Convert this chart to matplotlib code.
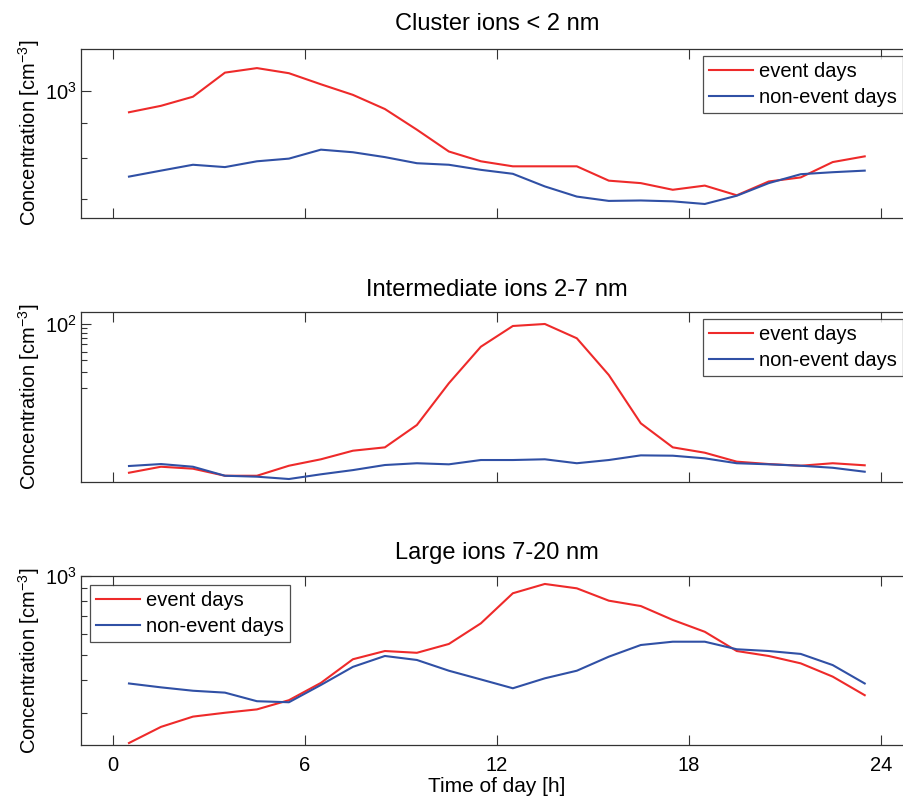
import numpy as np
import matplotlib
matplotlib.use("Agg")
import matplotlib.pyplot as plt
import matplotlib.ticker as mticker

plt.rcParams["font.family"] = ["Liberation Sans", "DejaVu Sans"]
plt.rcParams["mathtext.fontset"] = "custom"
plt.rcParams["mathtext.rm"] = "Liberation Sans"
plt.rcParams["mathtext.it"] = "Liberation Sans:italic"
plt.rcParams["mathtext.bf"] = "Liberation Sans:bold"

# hour of day (bin centres)
hours = np.arange(24) + 0.5

# cluster ions < 2 nm
cluster_event = [931, 951, 980, 1061, 1077, 1059, 1021, 986, 941, 879, 818, 792,
                 779, 779, 779, 743, 737, 721, 731, 708, 741, 751, 790, 805]
cluster_nonevent = [753, 768, 783, 777, 792, 799, 823, 816, 803, 787, 783, 770,
                    760, 729, 705, 695, 696, 694, 688, 707, 737, 759, 764, 768]

# intermediate ions 2-7 nm
inter_event = [2.31, 2.69, 2.56, 2.14, 2.14, 2.76, 3.25, 4.04, 4.40, 7.76, 22.4, 56.6,
               95.8, 100.8, 70.1, 27.6, 8.10, 4.40, 3.84, 3.06, 2.88, 2.76, 2.94, 2.79]
inter_nonevent = [2.74, 2.88, 2.69, 2.14, 2.09, 1.97, 2.22, 2.47, 2.81, 2.94, 2.86, 3.19,
                  3.19, 3.25, 2.94, 3.19, 3.59, 3.56, 3.33, 2.94, 2.86, 2.76, 2.62, 2.37]

# large ions 7-20 nm
large_event = [230, 265, 290, 300, 309, 335, 390, 480, 516, 508, 549, 658,
               857, 930, 895, 803, 766, 678, 611, 516, 494, 463, 412, 350]
large_nonevent = [388, 375, 364, 358, 332, 329, 383, 449, 494, 477, 434, 402,
                  372, 406, 434, 491, 544, 560, 560, 524, 516, 503, 456, 388]

titles = ["Cluster ions < 2 nm", "Intermediate ions 2-7 nm", "Large ions 7-20 nm"]
series = [(cluster_event, cluster_nonevent),
          (inter_event, inter_nonevent),
          (large_event, large_nonevent)]
ylims = [(658, 1147), (1.84, 135.6), (226, 1000)]
major_y = [[1000], [100], [1000]]
minor_y = [[700, 800, 900], [20, 30, 40, 50, 60, 70, 80, 90],
           [300, 400, 500, 600, 700, 800, 900]]

W, H = 904, 797
fig = plt.figure(figsize=(W / 100, H / 100), dpi=100)

# axes boxes in pixels: (top, bottom)
boxes = [(49, 217.5), (312.3, 481.7), (575.7, 745)]
x_left, x_right = 81, 912.7
legend_pos = [("upper right", 903, 55.7), ("upper right", 903, 319.3),
              ("upper left", 90, 585)]
title_pads = [13.5, 12, 12]

red = "#EE2A2A"
blue = "#3050A5"

for i, (top, bot) in enumerate(boxes):
    ax = fig.add_axes([x_left / W, 1 - bot / H, (x_right - x_left) / W, (bot - top) / H])
    ev, ne = series[i]
    ax.plot(hours, ev, color=red, lw=1.5, label="event days")
    ax.plot(hours, ne, color=blue, lw=1.5, label="non-event days")
    ax.set_yscale("log")
    ax.set_xlim(-1, 25)
    ax.set_ylim(*ylims[i])
    ax.yaxis.set_major_locator(mticker.FixedLocator(major_y[i]))
    ax.yaxis.set_minor_locator(mticker.FixedLocator(minor_y[i]))
    ax.yaxis.set_major_formatter(mticker.LogFormatterMathtext())
    ax.yaxis.set_minor_formatter(mticker.NullFormatter())
    ax.set_xticks([0, 6, 12, 18, 24])
    ax.tick_params(which="both", direction="in", top=True, right=True,
                   labelsize=14.5, width=0.8, color="#333333")
    ax.tick_params(which="major", length=7, pad=3)
    ax.tick_params(which="minor", length=4)
    ax.tick_params(axis="x", pad=8)
    for sp in ax.spines.values():
        sp.set_linewidth(0.9)
        sp.set_color("#333333")
    if i < 2:
        ax.tick_params(axis="x", labelbottom=False)
    else:
        ax.set_xlabel("Time of day [h]", fontsize=15, labelpad=1)
    ax.set_title(titles[i], fontsize=17, pad=title_pads[i])
    ax.set_ylabel(r"Concentration [cm$^{-3}$]", fontsize=14.5)
    ax.yaxis.set_label_coords((42 - x_left) / (x_right - x_left), 0.5)

    loc, lx, ly = legend_pos[i]
    leg = ax.legend(loc=loc, bbox_to_anchor=(lx / W, 1 - ly / H),
                    bbox_transform=fig.transFigure, borderaxespad=0,
                    fontsize=14.5, frameon=True, fancybox=False,
                    edgecolor="#222222", handlelength=2.2, handletextpad=0.3,
                    labelspacing=0.35, borderpad=0.3)
    leg.get_frame().set_linewidth(0.9)

fig.savefig("out.png", dpi=100)
